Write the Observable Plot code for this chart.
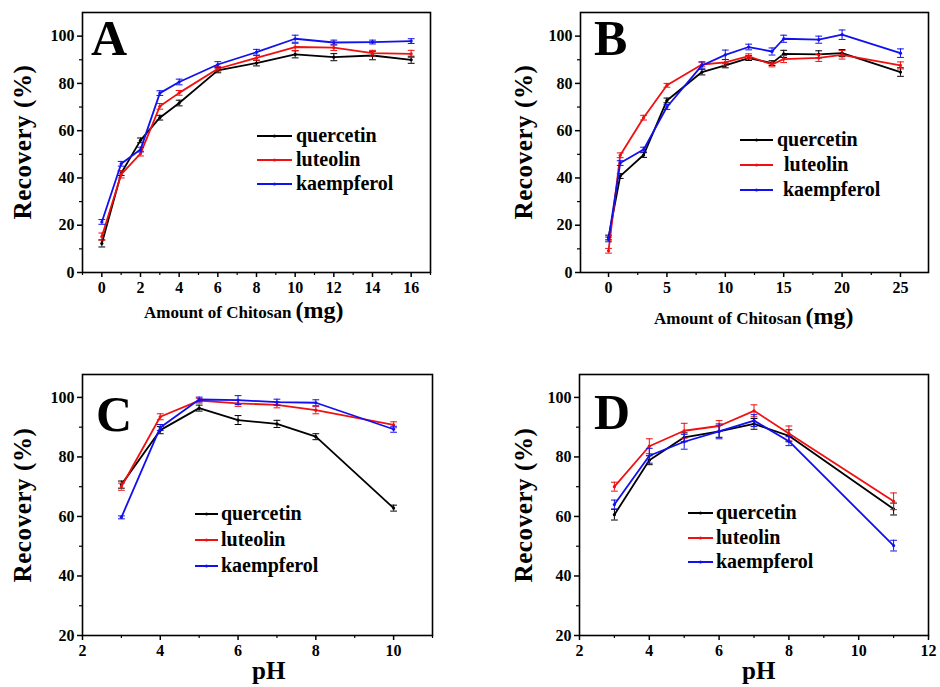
<!DOCTYPE html>
<html><head><meta charset="utf-8">
<script src="https://cdn.jsdelivr.net/npm/d3@7"></script>
<script src="https://cdn.jsdelivr.net/npm/@observablehq/plot@0.6"></script>
<style>
html,body{margin:0;padding:0;background:#fff;}
#wrap{position:relative;width:940px;height:687px;overflow:hidden;background:#fff;}
#wrap svg{position:absolute;}
#wrap svg text{font-family:"Liberation Serif","Times New Roman",serif !important;font-weight:bold;}
</style></head>
<body><div id="wrap"></div>
<script>
// ---------- DATA ----------
const seriesNames = ["quercetin", "luteolin", "kaempferol"];
const seriesColors = ["#000000", "#f01010", "#1010f0"];

// Panel A: Amount of Chitosan (mg)
const xA = [0, 1, 2, 3, 4, 6, 8, 10, 12, 14, 16];
const aQuercetin = [12.3, 42.0, 55.9, 65.5, 71.7, 85.5, 88.6, 92.3, 91.1, 91.8, 90.0];
const aLuteolin = [15.2, 41.5, 50.3, 70.3, 76.0, 86.2, 90.8, 95.4, 95.1, 92.8, 92.5];
const aKaempferol = [21.4, 46.0, 52.0, 75.9, 80.6, 88.0, 93.2, 98.9, 97.3, 97.5, 97.9];
const aErrQ = [1.5, 1.0, 1.0, 1.0, 1.2, 1.0, 1.2, 1.5, 1.5, 1.8, 1.5];
const aErrL = [1.5, 1.5, 1.0, 1.2, 1.0, 1.0, 1.0, 1.5, 1.2, 1.2, 1.5];
const aErrK = [1.0, 1.0, 1.0, 1.0, 1.2, 1.2, 1.2, 1.5, 1.0, 0.8, 1.0];

// Panel B: Amount of Chitosan (mg)
const xB = [0, 1, 3, 5, 8, 10, 12, 14, 15, 18, 20, 25];
const bQuercetin = [14.8, 40.8, 49.7, 72.8, 84.8, 87.6, 90.7, 88.6, 92.5, 92.3, 92.8, 84.8];
const bLuteolin = [9.2, 49.6, 65.5, 79.2, 88.0, 88.9, 91.5, 88.0, 90.3, 90.8, 92.1, 87.6];
const bKaempferol = [14.0, 46.3, 52.0, 70.0, 87.6, 92.1, 95.4, 93.5, 98.9, 98.5, 100.6, 92.8];
const bErrQ = [1.0, 1.0, 1.0, 1.0, 1.2, 1.0, 1.0, 1.0, 1.5, 1.5, 1.5, 1.8];
const bErrL = [1.0, 1.0, 1.0, 0.8, 1.0, 1.2, 1.0, 1.0, 1.5, 1.5, 1.8, 1.5];
const bErrK = [1.0, 1.0, 1.0, 1.0, 1.5, 2.0, 1.2, 1.5, 1.5, 1.5, 2.0, 1.8];

// Panel C: pH
const xC = [3, 4, 5, 6, 7, 8, 10];
const cQuercetin = [70.7, 89.0, 96.4, 92.4, 91.1, 86.8, 62.8];
const cLuteolin = [70.0, 93.5, 98.9, 98.0, 97.5, 95.7, 90.8];
const cKaempferol = [59.7, 89.9, 99.3, 99.1, 98.4, 98.2, 89.3];
const cErrQ = [1.2, 1.2, 1.0, 1.5, 1.2, 1.0, 1.0];
const cErrL = [1.2, 1.0, 0.8, 1.0, 1.0, 1.2, 1.0];
const cErrK = [0.5, 1.0, 0.8, 1.5, 1.0, 1.0, 1.0];

// Panel D: pH
const xD = [3, 4, 5, 6, 7, 8, 11];
const dQuercetin = [60.6, 78.9, 86.6, 88.6, 91.1, 87.1, 62.5];
const dLuteolin = [70.0, 83.6, 88.8, 90.4, 95.5, 87.9, 65.1];
const dKaempferol = [64.0, 80.4, 85.1, 88.6, 92.2, 85.3, 50.2];
const dErrQ = [1.8, 1.5, 1.5, 2.0, 1.8, 2.0, 2.0];
const dErrL = [1.5, 2.5, 2.5, 1.8, 2.0, 2.5, 2.8];
const dErrK = [1.5, 2.5, 2.5, 2.5, 2.0, 1.5, 1.8];

// Ticks
const xATicks = [0, 2, 4, 6, 8, 10, 12, 14, 16];
const xAMinor = [-1, 1, 3, 5, 7, 9, 11, 13, 15, 17];
const xBTicks = [0, 5, 10, 15, 20, 25];
const xBMinor = [2.5, 7.5, 12.5, 17.5, 22.5];
const xCTicks = [2, 4, 6, 8, 10];
const xCMinor = [3, 5, 7, 9, 11];
const xDTicks = [2, 4, 6, 8, 10, 12];
const xDMinor = [3, 5, 7, 9, 11];
const yTopTicks = [0, 20, 40, 60, 80, 100];
const yTopMinor = [10, 30, 50, 70, 90];
const yBotTicks = [20, 40, 60, 80, 100];
const yBotMinor = [30, 50, 70, 90];

// ---------- DRAW ----------
const FONT = '"Liberation Serif", "Times New Roman", serif';
const capSymbol = {draw(ctx, size) { const r = Math.sqrt(size / Math.PI); ctx.moveTo(-r, 0); ctx.lineTo(r, 0); }};

function makeRows(xs, ys, es) { return xs.map((x, i) => ({x, y: ys[i], e: es[i]})); }

function panel(cfg) {
  const marks = [];
  cfg.series.forEach((s, k) => {
    const rows = makeRows(cfg.x, s.y, s.e);
    const c = seriesColors[k];
    marks.push(Plot.ruleX(rows, {x: "x", y1: d => d.y - d.e, y2: d => d.y + d.e, stroke: c, strokeWidth: 1}));
    marks.push(Plot.dot(rows, {x: "x", y: d => d.y + d.e, symbol: capSymbol, r: 3.4, stroke: c, fill: "none", strokeWidth: 1}));
    marks.push(Plot.dot(rows, {x: "x", y: d => d.y - d.e, symbol: capSymbol, r: 3.4, stroke: c, fill: "none", strokeWidth: 1}));
    marks.push(Plot.line(rows, {x: "x", y: "y", stroke: c, strokeWidth: 1.8}));
    marks.push(Plot.dot(rows, {x: "x", y: "y", r: 1.6, fill: c}));
  });
  marks.push(Plot.axisX({ticks: cfg.xTicks, tickSize: 5, tickPadding: 4, strokeWidth: 1.5, tickFormat: d => d, fontSize: 16, label: null}));
  marks.push(Plot.axisX({ticks: cfg.xMinor, tickSize: 3, strokeWidth: 1.2, tickFormat: () => "", label: null}));
  marks.push(Plot.axisY({ticks: cfg.yTicks, tickSize: 5, tickPadding: 3, strokeWidth: 1.5, tickFormat: d => d, fontSize: 16, label: null}));
  marks.push(Plot.axisY({ticks: cfg.yMinor, tickSize: 3, strokeWidth: 1.2, tickFormat: () => "", label: null}));
  marks.push(Plot.frame({stroke: "black", strokeWidth: 1.6}));

  const svg = Plot.plot({
    width: cfg.width, height: cfg.height,
    marginLeft: cfg.m[0], marginTop: cfg.m[1], marginRight: cfg.m[2], marginBottom: cfg.m[3],
    x: {domain: cfg.xDomain, label: null},
    y: {domain: cfg.yDomain, label: null},
    style: {fontFamily: FONT, fontWeight: "bold", fontSize: "16px", background: "white", color: "black", overflow: "visible"},
    marks
  });
  svg.style.left = cfg.left + "px";
  svg.style.top = cfg.top + "px";
  const g = d3.select(svg).append("g").attr("fill", "black");
  // panel letter
  g.append("text").attr("x", cfg.letterPos[0]).attr("y", cfg.letterPos[1]).attr("text-anchor", "start")
    .style("font-size", "50px").text(cfg.letter);
  // y label
  g.append("text").attr("transform", `translate(${cfg.yLabelPos[0]},${cfg.yLabelPos[1]}) rotate(-90)`)
    .attr("text-anchor", "middle").style("font-size", "25px").style("letter-spacing", "0.6px").text("Recovery (%)");
  // x label
  const xl = g.append("text").attr("x", cfg.xLabelPos[0]).attr("y", cfg.xLabelPos[1]).attr("text-anchor", "start");
  cfg.xLabel.forEach(([t, fs]) => xl.append("tspan").style("font-size", fs + "px").text(t));
  // legend
  const L = cfg.legend;
  seriesNames.forEach((name, k) => {
    const y = L.y[k];
    g.append("line").attr("x1", L.x1).attr("x2", L.x2).attr("y1", y).attr("y2", y)
      .attr("stroke", seriesColors[k]).attr("stroke-width", 2);
    g.append("circle").attr("cx", (L.x1 + L.x2) / 2).attr("cy", y).attr("r", 1.5).attr("fill", seriesColors[k]);
    g.append("text").attr("x", L.tx + (L.dx ? L.dx[k] : 0)).attr("y", y + 6).attr("text-anchor", "start")
      .style("font-size", L.fs + "px").text(name);
  });
  document.getElementById("wrap").appendChild(svg);
}

const chitosanLabel = [["Amount of Chitosan ", 17], ["(mg)", 24]];
const phLabel = [["pH", 25]];

panel({
  left: 0, top: 0, width: 470, height: 340, m: [82, 12, 40, 68],
  x: xA, xDomain: [-1, 17], yDomain: [0, 110],
  xTicks: xATicks, xMinor: xAMinor, yTicks: yTopTicks, yMinor: yTopMinor,
  series: [{y: aQuercetin, e: aErrQ}, {y: aLuteolin, e: aErrL}, {y: aKaempferol, e: aErrK}],
  letter: "A", letterPos: [91, 55], yLabelPos: [31, 142], xLabelPos: [144, 318], xLabel: chitosanLabel,
  legend: {x1: 257, x2: 292, tx: 296, y: [136, 160, 184], fs: 20}
});
panel({
  left: 470, top: 0, width: 470, height: 340, m: [110, 12, 12, 68],
  x: xB, xDomain: [-2.4, 27.4], yDomain: [0, 110],
  xTicks: xBTicks, xMinor: xBMinor, yTicks: yTopTicks, yMinor: yTopMinor,
  series: [{y: bQuercetin, e: bErrQ}, {y: bLuteolin, e: bErrL}, {y: bKaempferol, e: bErrK}],
  letter: "B", letterPos: [124, 55], yLabelPos: [62, 142], xLabelPos: [184, 324], xLabel: chitosanLabel,
  legend: {x1: 270, x2: 303, tx: 307, dx: [0, 7, 6], y: [140, 165, 190], fs: 20}
});
panel({
  left: 0, top: 340, width: 470, height: 347, m: [82, 34, 38, 52],
  x: xC, xDomain: [2, 11], yDomain: [20, 107.7],
  xTicks: xCTicks, xMinor: xCMinor, yTicks: yBotTicks, yMinor: yBotMinor,
  series: [{y: cQuercetin, e: cErrQ}, {y: cLuteolin, e: cErrL}, {y: cKaempferol, e: cErrK}],
  letter: "C", letterPos: [96, 91], yLabelPos: [31, 165], xLabelPos: [252, 339], xLabel: phLabel,
  legend: {x1: 195, x2: 218, tx: 221, y: [174, 200, 226], fs: 20}
});
panel({
  left: 470, top: 340, width: 470, height: 347, m: [109, 34, 12, 52],
  x: xD, xDomain: [2, 12], yDomain: [20, 107.7],
  xTicks: xDTicks, xMinor: xDMinor, yTicks: yBotTicks, yMinor: yBotMinor,
  series: [{y: dQuercetin, e: dErrQ}, {y: dLuteolin, e: dErrL}, {y: dKaempferol, e: dErrK}],
  letter: "D", letterPos: [124, 89], yLabelPos: [62, 165], xLabelPos: [272, 339], xLabel: phLabel,
  legend: {x1: 218, x2: 243, tx: 246, y: [173, 198, 222], fs: 20}
});
</script></body></html>
